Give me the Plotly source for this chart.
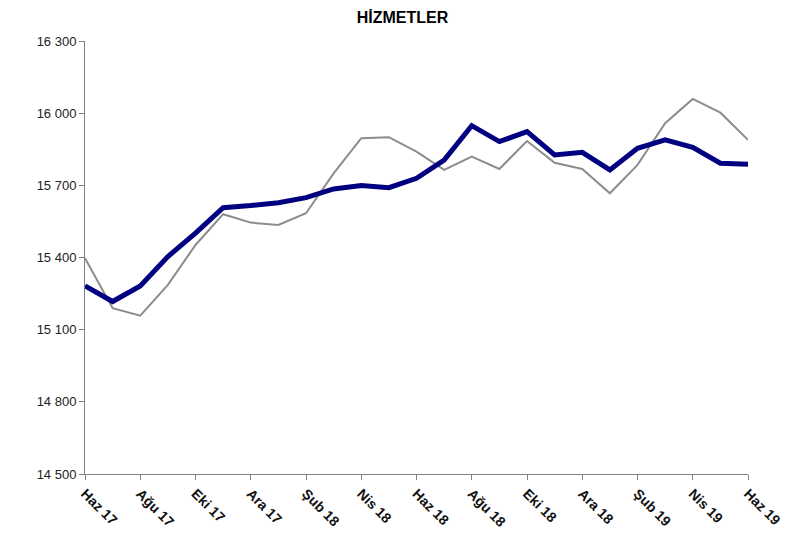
import plotly.graph_objects as go

months = ["Haz 17", "Tem 17", "Ağu 17", "Eyl 17", "Eki 17", "Kas 17", "Ara 17",
          "Oca 18", "Şub 18", "Mar 18", "Nis 18", "May 18", "Haz 18", "Tem 18",
          "Ağu 18", "Eyl 18", "Eki 18", "Kas 18", "Ara 18", "Oca 19", "Şub 19",
          "Mar 19", "Nis 19", "May 19", "Haz 19"]

trend = [15282, 15217, 15282, 15404, 15501, 15607, 15616, 15628, 15649, 15685,
         15699, 15690, 15729, 15805, 15948, 15882, 15923, 15826, 15837, 15764,
         15854, 15889, 15858, 15792, 15788]

raw = [15397, 15189, 15158, 15286, 15452, 15580, 15545, 15535, 15584, 15750,
       15896, 15900, 15840, 15764, 15819, 15768, 15884, 15794, 15768, 15667,
       15785, 15958, 16059, 16002, 15889]

y_ticks = [14500, 14800, 15100, 15400, 15700, 16000, 16300]
y_tick_text = ["14 500", "14 800", "15 100", "15 400", "15 700", "16 000", "16 300"]

x = list(range(len(months)))

FONT = "Liberation Sans, Arial"

fig = go.Figure()
fig.add_trace(go.Scatter(x=x, y=raw, mode="lines",
                         line=dict(color="#8c8c8c", width=2), name="raw"))
fig.add_trace(go.Scatter(x=x, y=trend, mode="lines",
                         line=dict(color="#000080", width=5), name="trend"))

fig.update_layout(
    width=789, height=535,
    margin=dict(l=77, r=49, t=33, b=69),
    paper_bgcolor="white", plot_bgcolor="white",
    showlegend=False,
    title=dict(text="<b>HİZMETLER</b>", x=0.5, xanchor="center", y=0.983, yanchor="middle",
               font=dict(family=FONT, size=16, color="black")),
    font=dict(family=FONT, size=13, color="#222222"),
)
fig.update_xaxes(
    range=[0, 24], tickvals=x[::2], ticktext=months[::2], tickangle=45,
    showgrid=False, zeroline=False, showline=True, linecolor="#808080", linewidth=1,
    ticks="outside", ticklen=5, tickcolor="#808080", automargin=False,
    tickfont=dict(family=FONT, size=14, color="#111111", weight="bold"),
)
fig.update_yaxes(
    range=[14500, 16300], tickvals=y_ticks, ticktext=y_tick_text,
    showgrid=False, zeroline=False, showline=True, linecolor="#808080", linewidth=1,
    ticks="outside", ticklen=5, tickcolor="#808080", automargin=False,
    tickfont=dict(family=FONT, size=13, color="#222222"),
)

fig.write_html("out.html")
